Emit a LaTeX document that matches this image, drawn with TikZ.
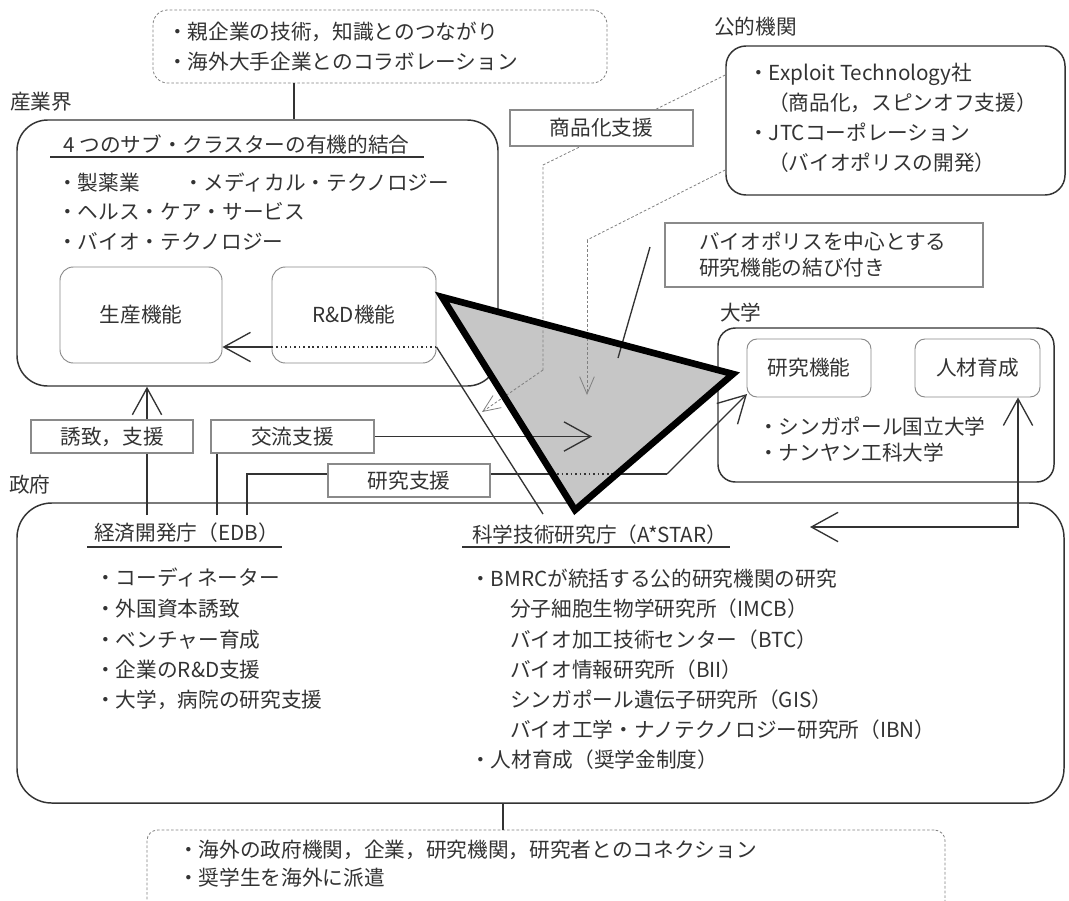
\documentclass[tikz,border=0pt]{standalone}
\usepackage{fontspec}
\newfontfamily\jp{Noto Sans CJK JP}
\usetikzlibrary{arrows.meta}
\definecolor{ink}{HTML}{333333}
\definecolor{boxc}{HTML}{8A8A8A}
\definecolor{dashc}{HTML}{808080}
\definecolor{trifill}{HTML}{C6C6C6}
\begin{document}
\begin{tikzpicture}[x=0.75pt,y=-0.75pt,
  t/.style={font=\jp\fontsize{15.5pt}{18pt}\selectfont, text=ink, inner sep=0pt, anchor=west, text height=13.5pt, text depth=2pt},
  big/.style={draw=ink, line width=1.1pt, inner sep=0pt},
  inbox/.style={draw=boxc, line width=0.7pt, inner sep=0pt, font=\jp\fontsize{15.5pt}{18pt}\selectfont, text=ink},
  lbl/.style={draw=boxc, line width=0.8pt, fill=white, inner sep=0pt, font=\jp\fontsize{15.5pt}{18pt}\selectfont, text=ink},
  dbox/.style={draw=dashc, line width=0.6pt, dash pattern=on 2pt off 1.5pt, inner sep=0pt},
  conn/.style={draw=ink, line width=1pt},
  arr/.style={conn, -{Straight Barb[length=20pt,width=22pt]}},
  dconn/.style={draw=dashc, line width=0.6pt, dash pattern=on 2pt off 1.5pt},
  darr/.style={dconn, -{Straight Barb[length=13pt,width=11pt]}},
  dots/.style={draw=ink, line width=1.2pt, dash pattern=on 1.2pt off 2.2pt},
  uline/.style={draw=ink, line width=1pt}
]
\clip (0,0) rectangle (1069,900);
\fill[white] (0,0) rectangle (1069,900);

% ---------- big containers ----------
\node[dbox, rounded corners=11pt, minimum width=340.5pt, minimum height=54.75pt] (topbox) at (380,46.5) {};
\node[big, rounded corners=23pt, minimum width=360.75pt, minimum height=199.5pt] (ind) at (257.5,253) {};
\node[big, rounded corners=15pt, minimum width=254.25pt, minimum height=111.75pt] (pub) at (895.5,120.5) {};
\node[big, rounded corners=13pt, minimum width=252pt, minimum height=115.5pt] (univ) at (886,405) {};
\node[big, rounded corners=26pt, minimum width=785.25pt, minimum height=225pt] (gov) at (540.5,653) {};
\node[dbox, rounded corners=8pt, minimum width=598.5pt, minimum height=75pt] (botbox) at (546,880) {};

% inner boxes
\node[inbox, rounded corners=10pt, minimum width=121.5pt, minimum height=72pt] (prod) at (141,315) {生産機能};
\node[inbox, rounded corners=10pt, minimum width=123pt, minimum height=72pt] (rd) at (354,315) {R\&D機能};
\node[inbox, rounded corners=7.5pt, minimum width=93pt, minimum height=43.5pt] (res) at (809,368) {研究機能};
\node[inbox, rounded corners=7.5pt, minimum width=93.75pt, minimum height=43.5pt] (hr) at (977.5,368) {人材育成};
\node[draw=boxc, line width=0.8pt, inner sep=0pt, minimum width=238.5pt, minimum height=48pt] (bio) at (824,255) {};

% ---------- triangle ----------
\coordinate (tA) at (442,297);
\coordinate (tB) at (733,374);
\coordinate (tC) at (575,510);
\fill[trifill] (tA) -- (tB) -- (tC) -- cycle;

% ---------- coordinates for connectors ----------
\coordinate (c1) at (294,0);
\coordinate (c2) at (503,0);
\coordinate (rdy) at (0,347);
\coordinate (astarlink) at (543,514);
\coordinate (vx1) at (147,515);
\coordinate (vx2) at (217,515);
\coordinate (vx3) at (247,515);
\coordinate (kt) at (592,0);
\coordinate (ky) at (0,474);
\coordinate (kL) at (552.5,474);
\coordinate (kR) at (617,474);
\coordinate (kbend) at (667,474);
\coordinate (rtip) at (747,394);
\coordinate (p1s) at (0,75);
\coordinate (p1a) at (543,165);
\coordinate (p1b) at (543,370);
\coordinate (p1e) at (482,412);
\coordinate (p2s) at (0,170);
\coordinate (p2a) at (587,240);
\coordinate (p2e) at (587,395);
\coordinate (ptrs) at (650,247);
\coordinate (ptre) at (618,358);
\coordinate (hx) at (1018,527);
\coordinate (atip) at (810,527);

% ---------- connectors ----------
\draw[conn] (topbox.south -| c1) -- (ind.north -| c1);
\draw[conn] (gov.south -| c2) -- (botbox.north -| c2);
\draw[dots] (rd.east |- rdy) -- (rd.west |- rdy);
\draw[arr] (rd.west |- rdy) -- (prod.east |- rdy);
\draw[conn] (rd.east |- rdy) -- (astarlink);
\draw[dconn] (pub.west |- p1s) -- (p1a) -- (p1b);
\draw[darr] (p1b) -- (p1e);
\draw[dconn] (pub.west |- p2s) -- (p2a);
\draw[darr] (p2a) -- (p2e);
\draw[conn] (ptrs) -- (ptre);
\draw[conn] (vx1) -- (vx1 |- 0,453);
\draw[arr] (vx1 |- 0,420) -- (ind.south -| vx1);
\draw[conn] (vx2) -- (vx2 |- 0,453);
\draw[arr] (374,436.5) -- (kt |- 0,436.5);
\draw[conn] (vx3) -- (vx3 |- ky) -- (328,474);
\draw[conn] (490,474) -- (kL);
\draw[dots] (kL) -- (kR);
\draw[conn] (kR) -- (kbend);
\draw[arr] (kbend) -- (rtip);
\draw[conn, {Straight Barb[length=20pt,width=22pt]}-{Straight Barb[length=20pt,width=22pt]}] (hr.south -| hx) -- (hx) -- (atip);

% label boxes (white, over connectors)
\node[lbl, minimum width=121.5pt, minimum height=24.75pt] (yuchi) at (112,436.5) {誘致，支援};
\node[lbl, minimum width=122.25pt, minimum height=24.75pt] (koryu) at (292.5,436.5) {交流支援};
\node[lbl, minimum width=121.5pt, minimum height=24.75pt] (kenkyu) at (409,480.5) {研究支援};
\node[lbl, minimum width=137.25pt, minimum height=27pt] (shohin) at (601.5,128) {商品化支援};

% triangle border
\draw[draw=black, line width=5pt, line join=miter] (tA) -- (tB) -- (tC) -- cycle;

% ---------- texts ----------
\node[t] (tt1) at (167,32) {・親企業の技術，知識とのつながり};
\node[t] (tt2) at (167,62) {・海外大手企業とのコラボレーション};
\node[t] (lind) at (10,102) {産業界};
\node[t] (indtitle) at (63,145) {4 つのサブ・クラスターの有機的結合};
\draw[uline] (50,157) -- (424,157);
\node[t] (i1) at (57,183) {・製薬業};
\node[t] (i2) at (183,183) {・メディカル・テクノロジー};
\node[t] (i3) at (57,212) {・ヘルス・ケア・サービス};
\node[t] (i4) at (57,242) {・バイオ・テクノロジー};

\node[t] (lpub) at (714,27) {公的機関};
\node[t] (p1) at (748,73) {・Exploit Technology社};
\node[t] (p2) at (768,103) {（商品化，スピンオフ支援）};
\node[t] (p3) at (748,133) {・JTCコーポレーション};
\node[t] (p4) at (768,163) {（バイオポリスの開発）};

\node[t] (b1) at (699,242) {バイオポリスを中心とする};
\node[t] (b2) at (699,268) {研究機能の結び付き};

\node[t] (luniv) at (720,313) {大学};
\node[t] (u1) at (758,427) {・シンガポール国立大学};
\node[t] (u2) at (758,453) {・ナンヤン工科大学};

\node[t] (lgov) at (9,485) {政府};
\node[t] (edb) at (94,533) {経済開発庁（EDB）};
\draw[uline] (87,547) -- (282,547);
\node[t] (e1) at (95,578) {・コーディネーター};
\node[t] (e2) at (95,609) {・外国資本誘致};
\node[t] (e3) at (95,640) {・ベンチャー育成};
\node[t] (e4) at (95,670) {・企業のR\&D支援};
\node[t] (e5) at (95,700) {・大学，病院の研究支援};

\node[t] (astar) at (472,535) {科学技術研究庁（A*STAR）};
\draw[uline] (462,547) -- (730,547);
\node[t] (a1) at (470,579) {・BMRCが統括する公的研究機関の研究};
\node[t] (a2) at (510,609) {分子細胞生物学研究所（IMCB）};
\node[t] (a3) at (510,640) {バイオ加工技術センター（BTC）};
\node[t] (a4) at (510,670) {バイオ情報研究所（BII）};
\node[t] (a5) at (510,700) {シンガポール遺伝子研究所（GIS）};
\node[t] (a6) at (510,730) {バイオ工学・ナノテクノロジー研究所（IBN）};
\node[t] (a7) at (470,760) {・人材育成（奨学金制度）};

\node[t] (g1) at (178,850) {・海外の政府機関，企業，研究機関，研究者とのコネクション};
\node[t] (g2) at (178,878) {・奨学生を海外に派遣};
\end{tikzpicture}
\end{document}
